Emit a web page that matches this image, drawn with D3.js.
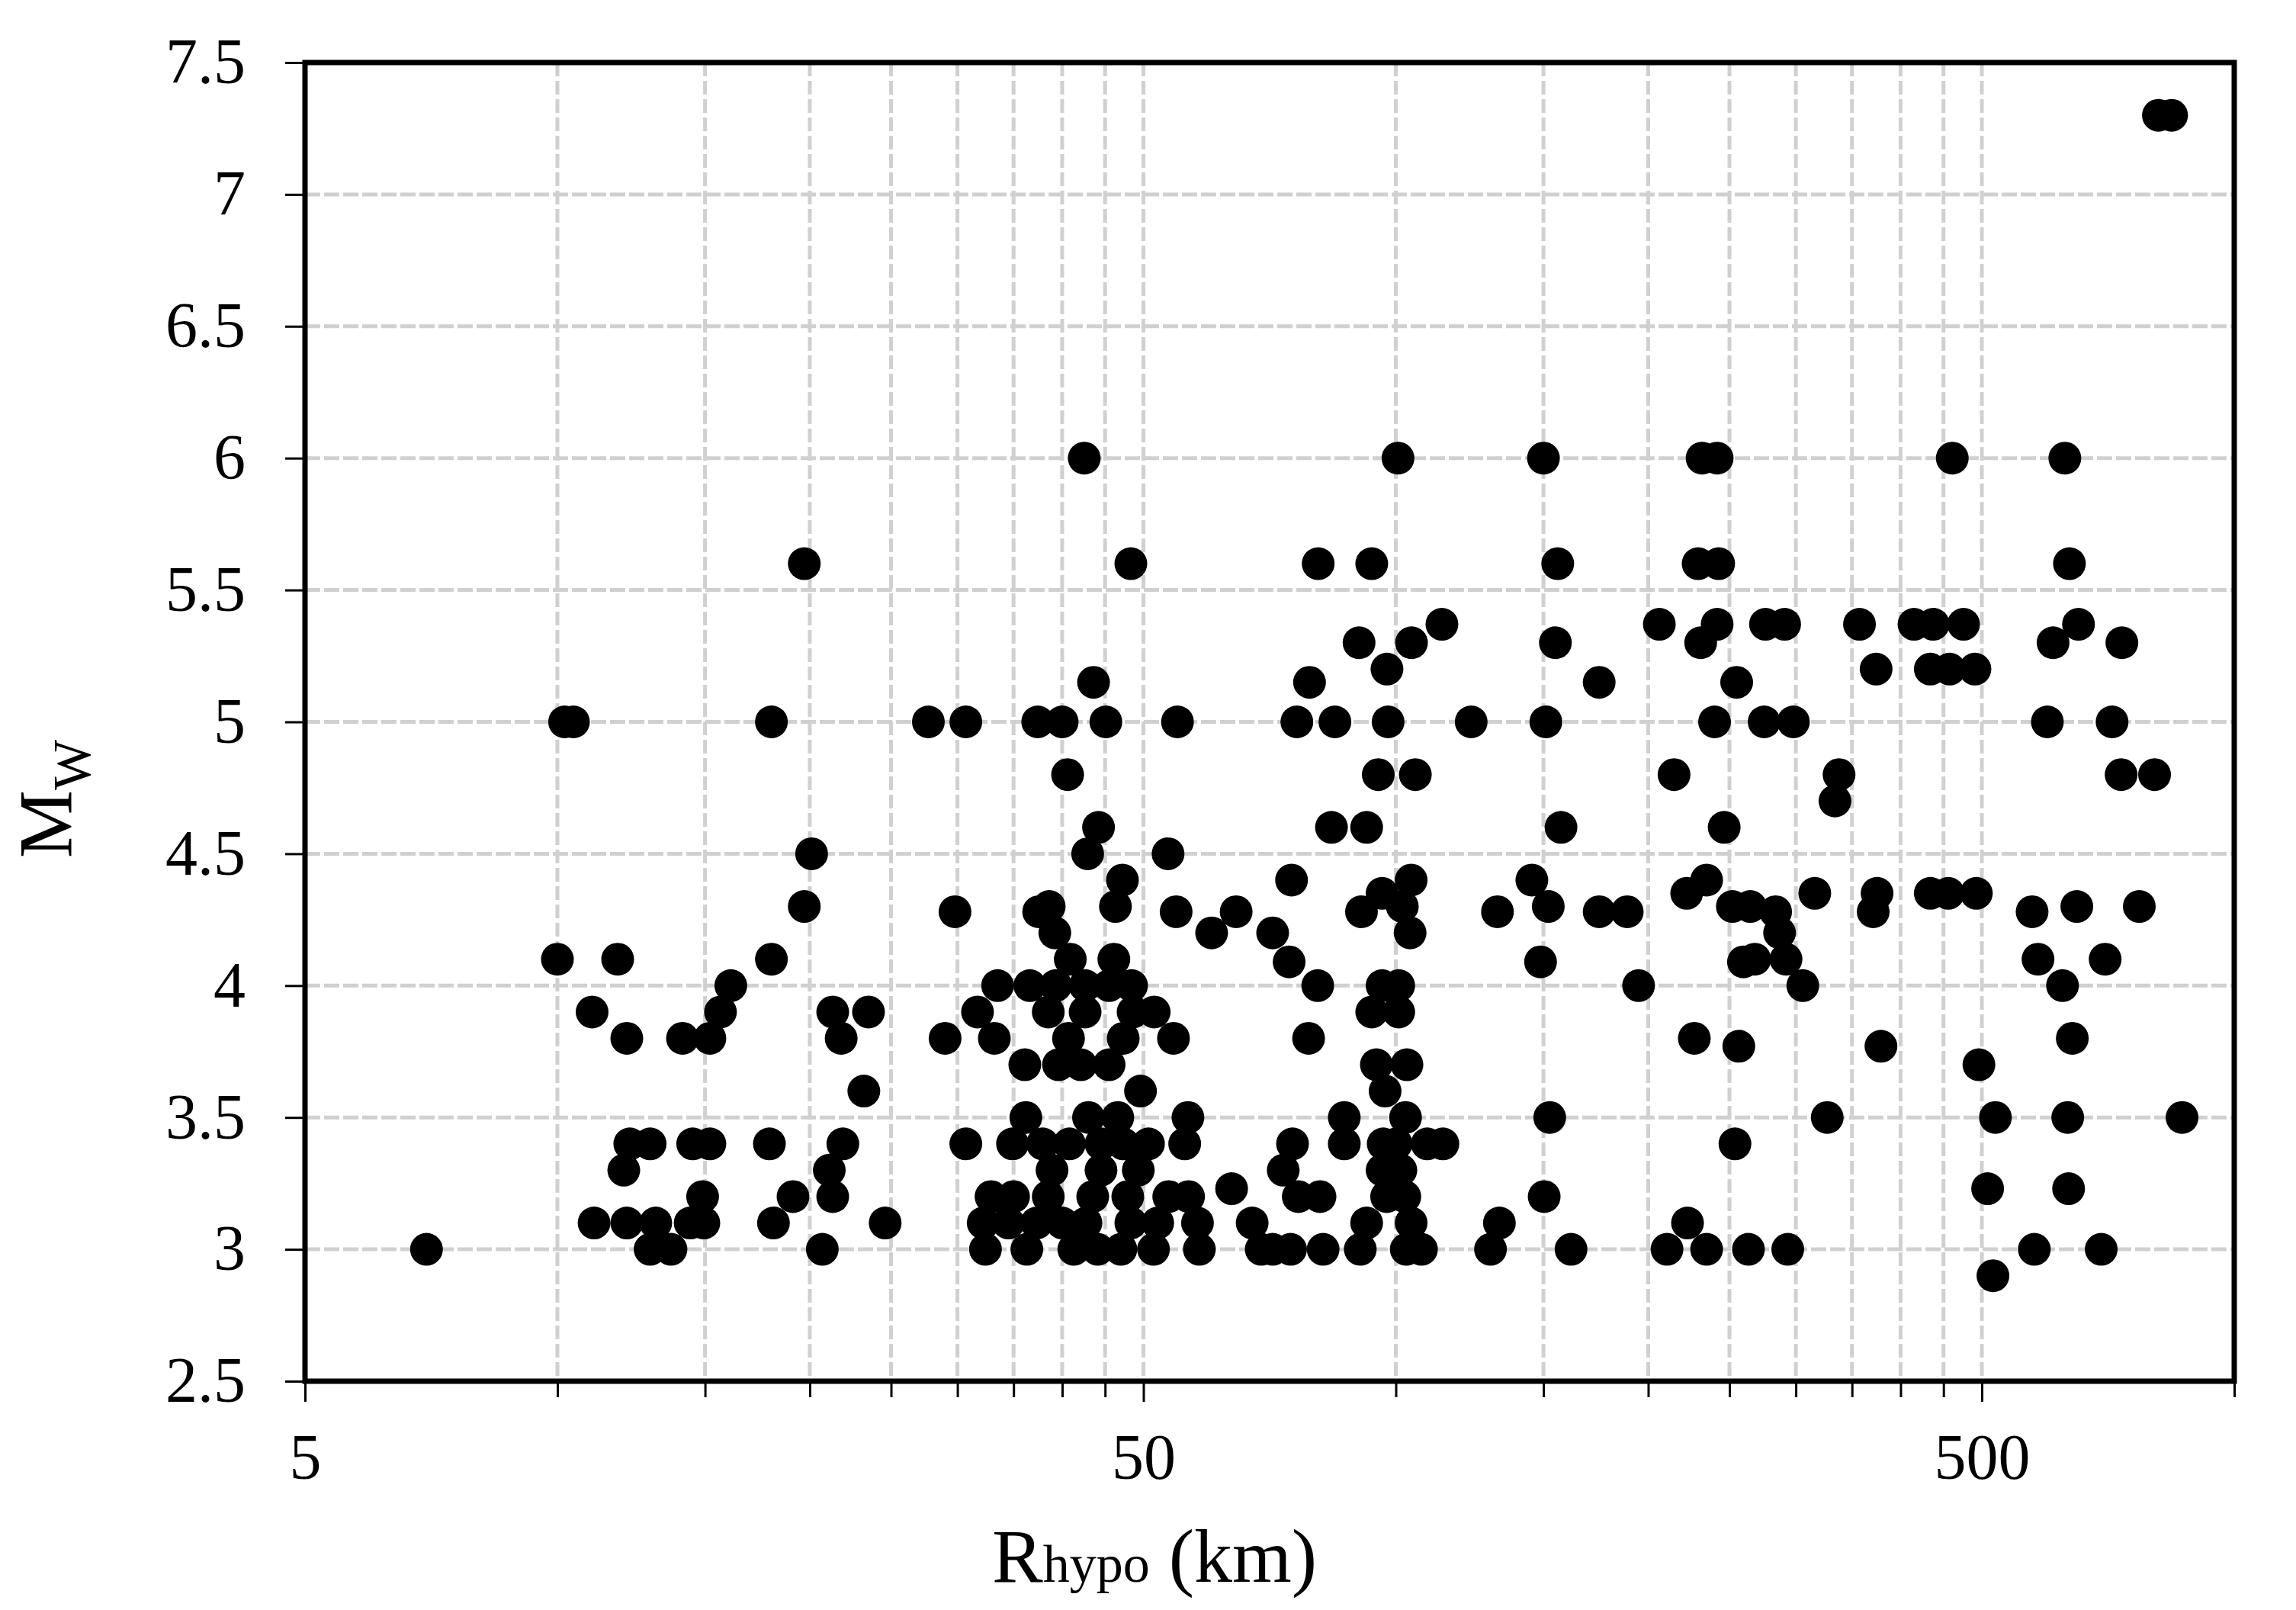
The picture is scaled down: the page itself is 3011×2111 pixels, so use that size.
<!DOCTYPE html>
<html>
<head>
<meta charset="utf-8">
<script src="https://cdn.jsdelivr.net/npm/d3@7"></script>
<style>
  body { margin: 0; background: #fff; }
  svg { display: block; }
  text { font-family: "Liberation Serif", "Times New Roman", serif; fill: #000; }
</style>
</head>
<body>
<div id="chart"></div>
<script>
// magnitude levels and the hypocentral distances (km) of the records at each level
const magnitudes = [7.3, 6.0, 5.6, 5.37, 5.3, 5.2, 5.15, 5.0, 4.8, 4.7, 4.6, 4.5, 4.4, 4.35, 4.3, 4.28, 4.2, 4.1, 4.09, 4.0,
                    3.9, 3.8, 3.77, 3.7, 3.6, 3.5, 3.4, 3.3, 3.23, 3.2, 3.1, 3.0, 2.9];
const distances = [
  [812, 842],
  [42.5, 100.6, 150, 231.9, 241.7, 461, 628],
  [19.7, 48.3, 80.8, 93.6, 156, 229.4, 242.7, 636],
  [113.5, 206.2, 241.7, 276, 290.9, 357.3, 415, 437.5, 475.5, 652],
  [90.4, 104.4, 155, 231, 608, 734.5],
  [97.6, 374, 434, 457.6, 490.6],
  [43.6, 78.9, 174.8, 255],
  [10.2, 10.45, 18.0, 27.7, 30.7, 37.4, 40.0, 45.1, 54.9, 76.2, 84.6, 97.9, 123, 151, 240, 275, 298, 598.6, 715],
  [40.6, 95.3, 105.5, 214.7, 337.8, 733, 803.5],
  [334],
  [44.2, 83.8, 92.3, 157.4, 246.4],
  [20.1, 42.9, 53.5],
  [47.2, 75.1, 104.3, 145.3, 234.8],
  [96.3, 222.3, 316, 375, 434, 456, 492.5],
  [19.7, 38.6, 46.3, 101.8, 152, 252, 264.7, 649, 770.5],
  [29.8, 37.5, 54.7, 64.5, 91.0, 132.2, 174.8, 188.8, 283.8, 371, 574],
  [39.2, 60.3, 71.3, 104, 286.9],
  [10.0, 11.8, 18.0, 40.9, 46.1, 268, 292, 583.4, 701.5],
  [74.6, 148.8, 259.8],
  [16.1, 33.5, 36.6, 39.3, 42.6, 45.5, 48.4, 80.7, 96.3, 100.8, 194.8, 305.8, 624],
  [11.0, 15.65, 21.3, 23.5, 31.7, 38.5, 42.6, 48.6, 51.5, 93.6, 100.8],
  [12.1, 14.1, 15.2, 21.8, 29.0, 33.2, 40.7, 47.3, 54.3, 78.7, 227, 641],
  [256.5, 379],
  [36.1, 39.6, 42.1, 45.5, 94.8, 103.1, 496],
  [23.2, 49.6, 97.1],
  [36.2, 43.0, 46.6, 56.5, 86.8, 102.7, 152.6, 327, 519, 633, 866.5],
  [12.2, 12.9, 14.5, 15.2, 17.9, 21.9, 30.7, 34.9, 37.9, 40.8, 44.5, 47.3, 50.7, 56, 75.3, 86.8, 96.6, 100.1, 109, 113.8, 253.8],
  [12.0, 21.1, 38.9, 44.5, 49.3, 73.4, 96.3, 101.4],
  [63.7, 508, 634.5],
  [14.9, 19.1, 21.3, 32.9, 35.0, 38.5, 43.5, 47.9, 53.6, 56.6, 76.5, 81.2, 97.5, 102.5, 150.3],
  [11.06, 12.1, 13.1, 14.4, 14.95, 18.1, 24.6, 32.2, 34.5, 37.3, 40.0, 42.7, 48.3, 52.0, 58, 67.4, 92.3, 104.3, 132.9, 222.8],
  [6.98, 12.9, 13.66, 20.7, 32.4, 36.3, 41.3, 44.1, 47.0, 51.4, 58.3, 69.1, 71.3, 74.9, 81.9, 90.7, 102.9, 107.3, 129.7, 161.8,
   210.6, 234.8, 263.4, 293.4, 577.5, 694],
  [515.5]
];

const yTicks = [2.5, 3, 3.5, 4, 4.5, 5, 5.5, 6, 6.5, 7, 7.5];
const xTicks = [5, 50, 500];
const xMinorTicks = [10, 15, 20, 25, 30, 35, 40, 45, 100, 150, 200, 250, 300, 350, 400, 450, 1000];
const xGridValues = [10, 15, 20, 25, 30, 35, 40, 45, 50, 100, 150, 200, 250, 300, 350, 400, 450, 500];
const yGridValues = [3, 3.5, 4, 4.5, 5, 5.5, 6, 6.5, 7];

const width = 3011,
      height = 2111;
const plotLeft = 400, plotRight = 2930, plotTop = 82, plotBottom = 1811;

const points = [];
magnitudes.forEach((m, i) => distances[i].forEach(r => points.push({r: r, m: m})));

const x = d3.scaleLog().domain([5, 1000]).range([plotLeft, plotRight]);
const y = d3.scaleLinear().domain([2.5, 7.5]).range([plotBottom, plotTop]);

const svg = d3.select('#chart')
              .append('svg')
              .attr('width', width)
              .attr('height', height);

svg.append('rect')
   .attr('width', width)
   .attr('height', height)
   .attr('fill', '#fff');

// grid
svg.append('g')
   .selectAll('line')
   .data(yGridValues)
   .enter()
   .append('line')
   .attr('x1', plotLeft)
   .attr('x2', plotRight)
   .attr('y1', d => y(d))
   .attr('y2', d => y(d))
   .attr('stroke', '#d0d0d0')
   .attr('stroke-width', 5)
   .attr('stroke-dasharray', '20,5');

svg.append('g')
   .selectAll('line')
   .data(xGridValues)
   .enter()
   .append('line')
   .attr('x1', d => x(d))
   .attr('x2', d => x(d))
   .attr('y1', plotTop)
   .attr('y2', plotBottom)
   .attr('stroke', '#d0d0d0')
   .attr('stroke-width', 5)
   .attr('stroke-dasharray', '18,6');

// points
svg.append('g')
   .selectAll('circle')
   .data(points)
   .enter()
   .append('circle')
   .attr('cx', d => x(d.r))
   .attr('cy', d => y(d.m))
   .attr('r', 21.5)
   .attr('fill', '#000');

// axes
const yAxis = d3.axisLeft(y)
                .tickValues(yTicks)
                .tickFormat(d => String(d))
                .tickSize(26)
                .tickSizeOuter(0)
                .tickPadding(52);

const gy = svg.append('g')
              .attr('transform', `translate(${plotLeft},0)`)
              .call(yAxis);

const xAxis = d3.axisBottom(x)
                .tickValues(xTicks)
                .tickFormat(d => String(d))
                .tickSize(27)
                .tickSizeOuter(0)
                .tickPadding(41);

const gx = svg.append('g')
              .attr('transform', `translate(0,${plotBottom})`)
              .call(xAxis);

const xMinorAxis = d3.axisBottom(x)
                     .tickValues(xMinorTicks)
                     .tickFormat('')
                     .tickSize(21)
                     .tickSizeOuter(0);

const gxm = svg.append('g')
               .attr('transform', `translate(0,${plotBottom})`)
               .call(xMinorAxis);

[gy, gx, gxm].forEach(g => {
  g.select('.domain').remove();
  g.selectAll('.tick line').attr('stroke', '#000').attr('stroke-width', 3);
  g.selectAll('.tick text').attr('font-size', 84).attr('font-family', '"Liberation Serif", serif').attr('fill', '#000');
});

// frame
svg.append('rect')
   .attr('x', plotLeft)
   .attr('y', plotTop)
   .attr('width', plotRight - plotLeft)
   .attr('height', plotBottom - plotTop)
   .attr('fill', 'none')
   .attr('stroke', '#000')
   .attr('stroke-width', 7);

// axis titles
const xTitle = svg.append('text')
                  .attr('x', 1514)
                  .attr('y', 2074)
                  .attr('text-anchor', 'middle');
xTitle.append('tspan').attr('font-size', 100).text('R');
xTitle.append('tspan').attr('font-size', 70).text('hypo');
xTitle.append('tspan').attr('font-size', 100).text(' (km)');

const yTitle = svg.append('text')
                  .attr('transform', 'translate(93,1125) rotate(-90)')
                  .attr('text-anchor', 'start');
yTitle.append('tspan').attr('font-size', 100).text('M');
yTitle.append('tspan').attr('font-size', 70).attr('dy', 25).text('W');
</script>
</body>
</html>
